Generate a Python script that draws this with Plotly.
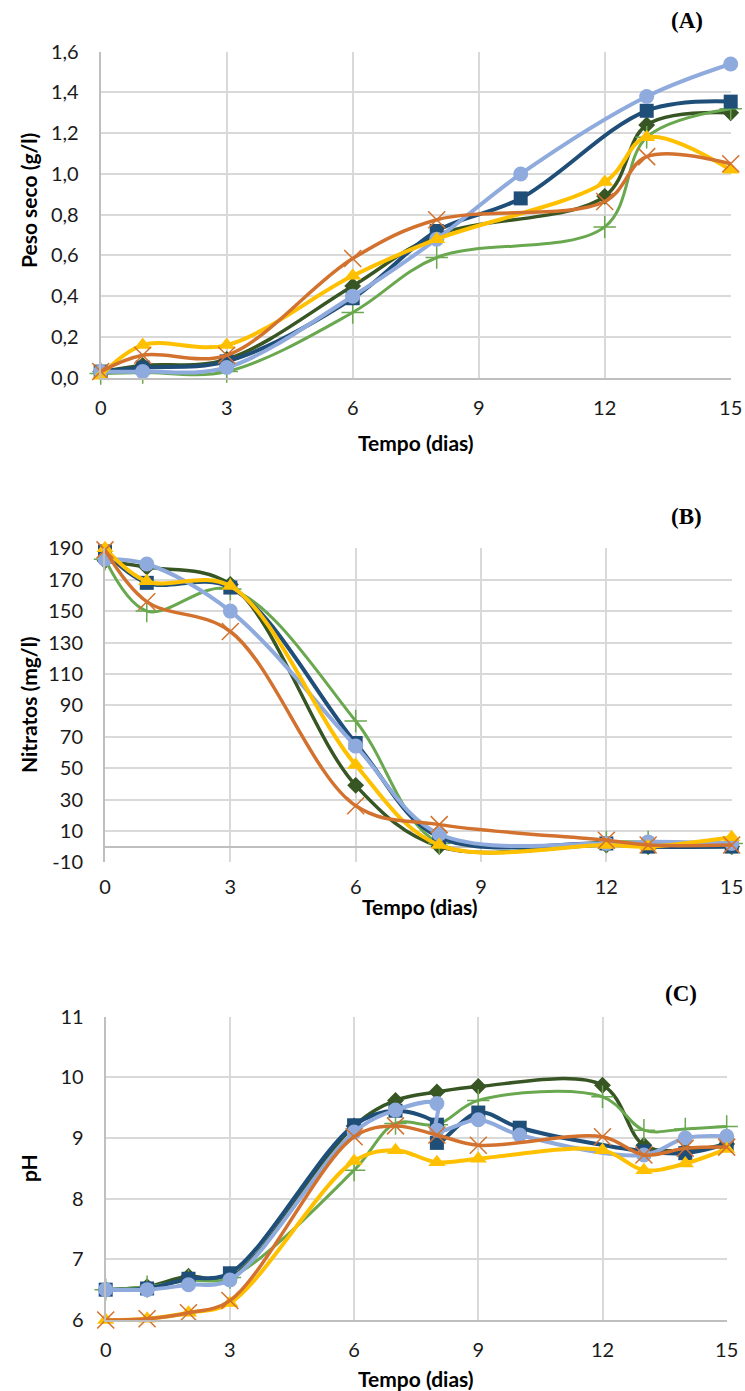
import plotly.graph_objects as go

# ---------------- DATA ----------------
# Panel A: Peso seco (g/l)
days_A = [0, 1, 3, 6, 8, 12, 13, 15]
days_A_b = [0, 1, 3, 6, 8, 10, 13, 15]
A_dkgreen = [0.03, 0.06, 0.09, 0.45, 0.70, 0.89, 1.24, 1.30]
A_ltgreen = [0.02, 0.025, 0.03, 0.32, 0.59, 0.74, 1.18, 1.32]
A_yellow = [0.01, 0.16, 0.16, 0.50, 0.68, 0.96, 1.18, 1.02]
A_orange = [0.03, 0.11, 0.11, 0.585, 0.775, 0.865, 1.085, 1.05]
A_blue = [0.03, 0.05, 0.08, 0.39, 0.72, 0.88, 1.31, 1.355]
A_ltblue = [0.03, 0.03, 0.05, 0.40, 0.68, 1.00, 1.38, 1.54]

# Panel B: Nitratos (mg/l)
days_B = [0, 1, 3, 6, 8, 12, 13, 15]
B_dkgreen = [182, 178, 167, 39, 0, 1, 0, 0]
B_ltgreen = [183, 150, 164, 80, 2, 3, 3, 2]
B_yellow = [190, 169, 166, 52, 1, 1, 0, 6]
B_orange = [189, 156, 137, 26, 14, 4, 1, 1]
B_blue = [188, 168, 165, 66, 6, 2, 0, 0]
B_ltblue = [183, 180, 150, 64, 8, 2, 3, 2]

# Panel C: pH
days_C = [0, 1, 2, 3, 6, 7, 8, 9, 12, 13, 14, 15]
days_C_b = [0, 1, 2, 3, 6, 7, 8, 8, 9, 10, 13, 14, 15]
C_dkgreen = [6.5, 6.55, 6.72, 6.70, 9.20, 9.62, 9.76, 9.85, 9.87, 8.88, 8.80, 8.90]
C_ltgreen = [6.5, 6.55, 6.65, 6.70, 8.47, 9.24, 9.22, 9.62, 9.68, 9.13, 9.15, 9.19]
C_yellow = [6.0, 6.02, 6.12, 6.28, 8.62, 8.80, 8.60, 8.66, 8.80, 8.47, 8.58, 8.82]
C_orange = [6.0, 6.02, 6.12, 6.32, 9.02, 9.20, 9.05, 8.88, 9.02, 8.72, 8.83, 8.85]
C_blue = [6.5, 6.52, 6.68, 6.77, 9.21, 9.45, 9.22, 8.92, 9.42, 9.17, 8.78, 8.75, 8.90]
C_ltblue = [6.5, 6.50, 6.58, 6.66, 9.10, 9.46, 9.57, 9.13, 9.30, 9.05, 8.72, 9.00, 9.03]

x_ticks = [0, 3, 6, 9, 12, 15]
A_yticks = [0, 0.2, 0.4, 0.6, 0.8, 1.0, 1.2, 1.4, 1.6]
B_yticks = [-10, 10, 30, 50, 70, 90, 110, 130, 150, 170, 190]
C_yticks = [6, 7, 8, 9, 10, 11]

# ---------------- STYLE ----------------
DKGREEN = "#375623"
LTGREEN = "#6AA84F"
YELLOW = "#FFC000"
ORANGE = "#D2722E"
BLUE = "#1F4E79"
LTBLUE = "#8FAADC"

styles = {
    "dkgreen": dict(color=DKGREEN, symbol="diamond", size=13, width=3.5),
    "ltgreen": dict(color=LTGREEN, symbol="cross-thin", size=16, width=3),
    "blue": dict(color=BLUE, symbol="square", size=14, width=4),
    "ltblue": dict(color=LTBLUE, symbol="circle", size=15, width=4),
    "yellow": dict(color=YELLOW, symbol="triangle-up", size=15, width=4),
    "orange": dict(color=ORANGE, symbol="x-thin", size=17, width=3.5),
}

fig = go.Figure()


def add(xs, ys, key, xa, ya):
    s = styles[key]
    thin = s["symbol"].endswith("thin")
    fig.add_trace(go.Scatter(
        x=xs, y=ys, mode="lines+markers", xaxis=xa, yaxis=ya,
        line=dict(color=s["color"], width=s["width"], shape="spline", smoothing=1),
        marker=dict(symbol=s["symbol"], size=s["size"], color=s["color"],
                    line=dict(color=s["color"], width=1.5 if thin else 0)),
        cliponaxis=False, showlegend=False,
    ))


panels = [
    ("x", "y", days_A, days_A_b, A_dkgreen, A_ltgreen, A_blue, A_ltblue, A_yellow, A_orange),
    ("x2", "y2", days_B, days_B, B_dkgreen, B_ltgreen, B_blue, B_ltblue, B_yellow, B_orange),
    ("x3", "y3", days_C, days_C_b, C_dkgreen, C_ltgreen, C_blue, C_ltblue, C_yellow, C_orange),
]
for xa, ya, d, db, dg, lg, bl, lb, ye, orr in panels:
    add(d, dg, "dkgreen", xa, ya)
    add(d, lg, "ltgreen", xa, ya)
    add(db, bl, "blue", xa, ya)
    add(db, lb, "ltblue", xa, ya)
    add(d, ye, "yellow", xa, ya)
    add(d, orr, "orange", xa, ya)

W, H = 745, 1391
TICKFONT = dict(family="Lato, Carlito, Calibri, sans-serif", size=20, color="#1a1a1a")
GRID = "#D9D9D9"
AXLINE = "#BFBFBF"


def xaxis(dom, anchor, showline=True):
    return dict(domain=dom, anchor=anchor, range=[0, 15], tickvals=x_ticks,
                showgrid=True, gridcolor=GRID, gridwidth=1.5,
                showline=showline, linecolor=AXLINE, linewidth=2,
                zeroline=False, ticks="", tickfont=TICKFONT, ticklabelstandoff=11,
                automargin=False, fixedrange=True)


def yaxis(dom, anchor, rng, tv, tt, zeroline=False):
    return dict(domain=dom, anchor=anchor, range=rng, tickvals=tv, ticktext=tt,
                showgrid=True, gridcolor=GRID, gridwidth=1.5,
                showline=True, linecolor=AXLINE, linewidth=2,
                zeroline=zeroline, zerolinecolor=AXLINE, zerolinewidth=2,
                ticks="", tickfont=TICKFONT, ticklabelstandoff=16,
                automargin=False, fixedrange=True)


def px_x(a, b):
    return [a / W, b / W]


def px_y(top, bottom):
    return [1 - bottom / H, 1 - top / H]


fig.update_layout(
    width=W, height=H,
    margin=dict(l=0, r=0, t=0, b=0, autoexpand=False),
    paper_bgcolor="white", plot_bgcolor="white",
    separators=",.",
    xaxis=xaxis(px_x(100.7, 730.7), "y"),
    yaxis=yaxis(px_y(51.7, 377.7), "x", [0, 1.6], A_yticks,
                [f"{v:.1f}".replace(".", ",") for v in A_yticks]),
    xaxis2=xaxis(px_x(105, 731.7), "y2", showline=False),
    yaxis2=yaxis(px_y(548.3, 862.3), "x2", [-10, 190], B_yticks,
                 [str(v) for v in B_yticks], zeroline=True),
    xaxis3=xaxis(px_x(105.7, 726.7), "y3"),
    yaxis3=yaxis(px_y(1016.7, 1320), "x3", [6, 11], C_yticks,
                 [str(v) for v in C_yticks]),
)

TITLEFONT = dict(family="Lato, Carlito, Calibri, sans-serif", size=21, color="#000000")
PANELFONT = dict(family="Liberation Serif, Times New Roman, serif", size=23, color="#000000")

ann = []
# y-axis titles
for text, yc in [("<b>Peso seco (g/l)</b>", 201), ("<b>Nitratos (mg/l)</b>", 705), ("<b>pH</b>", 1168)]:
    ann.append(dict(text=text, x=28 / W, y=1 - yc / H, xref="paper", yref="paper",
                    showarrow=False, textangle=-90, font=TITLEFONT,
                    xanchor="center", yanchor="middle"))
# x-axis titles
for xc, yc in [(416, 442), (420, 906), (416, 1378)]:
    ann.append(dict(text="<b>Tempo (dias)</b>", x=xc / W, y=1 - yc / H, xref="paper",
                    yref="paper", showarrow=False, font=TITLEFONT,
                    xanchor="center", yanchor="middle"))
# panel labels
for text, xc, yc in [("<b>(A)</b>", 687, 20), ("<b>(B)</b>", 686, 516), ("<b>(C)</b>", 681, 993)]:
    ann.append(dict(text=text, x=xc / W, y=1 - yc / H, xref="paper", yref="paper",
                    showarrow=False, font=PANELFONT, xanchor="center", yanchor="middle"))
fig.update_layout(annotations=ann)

fig.write_html(
    "out.html",
    config={"displayModeBar": False},
    post_script="document.body.style.margin='0';document.body.style.overflow='hidden';",
)
